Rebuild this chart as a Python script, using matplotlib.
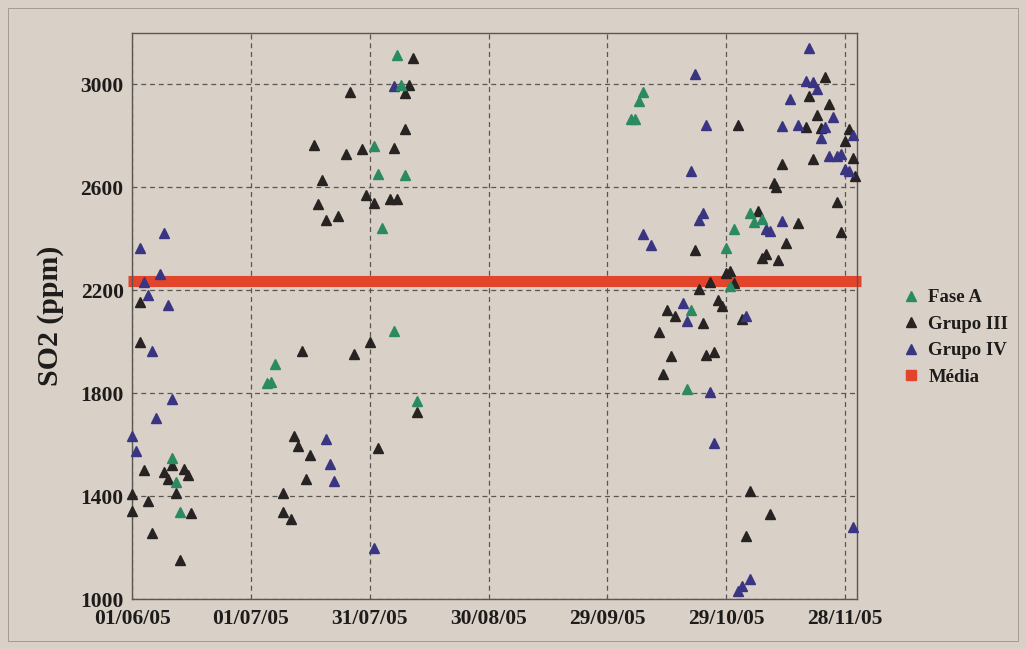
import numpy as np
import matplotlib
matplotlib.use("Agg")
import matplotlib.pyplot as plt
import matplotlib.dates as mdates
from matplotlib.lines import Line2D
from matplotlib.patches import Rectangle

# ── data (day offset from 01/06/05, SO2 ppm) ─────────────────────────────────
start = np.datetime64("2005-06-01")

fase_a_dias = [10, 11, 12, 36, 35, 34, 61, 62, 69, 67, 68, 63, 66, 72,
               129, 128, 127, 126, 150, 152, 151, 141, 140, 156, 157, 159]
fase_a_so2 = [1547, 1453, 1339, 1915, 1844, 1838, 2760, 2653, 2649, 3116, 2997, 2441, 2042, 1770,
              2971, 2935, 2864, 2864, 2365, 2437, 2217, 2123, 1815, 2499, 2465, 2476]

grupo3_dias = [2, 2, 3, 8, 13, 14, 9, 10, 11, 0, 4, 0, 15, 5, 12,
               43, 56, 60, 41, 42, 45, 44, 38, 38, 40, 62, 71, 55, 70, 69, 69, 46, 54, 58,
               66, 48, 59, 47, 61, 65, 67, 49, 52, 72,
               142, 150, 151, 146, 152, 143, 148, 149, 135, 137, 144, 133, 136, 145, 147,
               134, 154, 179, 165, 159, 160, 163, 175, 171, 176, 173, 153, 170, 174, 181,
               180, 182, 172, 164, 182.6, 162, 162.5, 178, 158, 168, 156, 161, 155]
grupo3_so2 = [2154, 1998, 1502, 1492, 1505, 1481, 1466, 1520, 1414, 1408, 1382, 1343, 1333, 1256, 1151,
              1964, 1951, 1999, 1634, 1595, 1559, 1466, 1414, 1339, 1311, 1586, 3101, 2971, 2997,
              2967, 2828, 2763, 2731, 2750, 2753, 2628, 2571, 2534, 2540, 2556, 2556, 2475, 2489, 1727,
              2356, 2269, 2275, 2232, 2227, 2204, 2162, 2139, 2123, 2100, 2071, 2038, 1945, 1949, 1961,
              1874, 2090, 2428, 2382, 2327, 2340, 2318, 3030, 2955, 2922, 2883, 2841, 2834, 2831, 2825,
              2780, 2715, 2711, 2692, 2644, 2615, 2600, 2543, 2508, 2460, 1421, 1330, 1246]

grupo4_dias = [8, 2, 7, 3, 4, 9, 10, 6, 0, 1, 5,
               49, 50, 51, 66, 61,
               142, 141, 144, 143, 129, 131, 139, 140, 146, 155, 161, 160, 164, 171, 170,
               172, 173, 166, 177, 145, 164, 168, 175, 174, 182, 176, 178, 179, 180, 181,
               147, 182, 156, 154, 153]
grupo4_so2 = [2421, 2366, 2265, 2232, 2180, 2142, 1777, 1703, 1634, 1576, 1963,
              1621, 1524, 1460, 2993, 1197,
              3039, 2663, 2502, 2472, 2417, 2375, 2152, 2081, 1803, 2100, 2430, 2439, 2469, 3140, 3013,
              3009, 2981, 2942, 2873, 2844, 2838, 2844, 2835, 2793, 2803, 2721, 2721, 2728, 2670, 2663,
              1608, 1278, 1078, 1052, 1032]

media_so2 = 2235
media_inicio, media_fim = "2005-05-31", "2005-12-02"

tick_datas = ["2005-06-01", "2005-07-01", "2005-07-31", "2005-08-30",
              "2005-09-29", "2005-10-29", "2005-11-28"]
y_ticks = [1000, 1400, 1800, 2200, 2600, 3000]


def to_dates(days):
    return start + (np.asarray(days, dtype=float) * 86400).astype("timedelta64[s]")


# ── style ────────────────────────────────────────────────────────────────────
bg = "#d9d0c7"
c_fase = "#2b8a62"
c_g3 = "#262322"
c_g4 = "#3a3582"
c_media = "#e2452b"
serif = ["Liberation Serif", "DejaVu Serif"]
plt.rcParams["font.family"] = serif
plt.rcParams["font.weight"] = "bold"

fig = plt.figure(figsize=(10.26, 6.49), dpi=100, facecolor=bg)
ax = fig.add_axes([0.1287, 0.0770, 0.7066, 0.8722], facecolor=bg)

# outer chart border
fig.patches.append(Rectangle((0.008, 0.012), 0.984, 0.975, transform=fig.transFigure,
                             fill=False, edgecolor="#a29c96", linewidth=0.7))

ax.plot(np.array([media_inicio, media_fim], dtype="datetime64[D]"), [media_so2, media_so2],
        color=c_media, linewidth=8, solid_capstyle="butt", clip_on=False, zorder=2)

mk = dict(linestyle="none", marker="^", markersize=7.5, clip_on=False, zorder=3)
ax.plot(to_dates(grupo3_dias), grupo3_so2, color=c_g3, **mk)
ax.plot(to_dates(grupo4_dias), grupo4_so2, color=c_g4, **mk)
ax.plot(to_dates(fase_a_dias), fase_a_so2, color=c_fase, **mk)

ax.set_xlim(np.datetime64("2005-06-01"), np.datetime64("2005-12-01"))
ax.set_ylim(1000, 3200)
ax.set_xticks(np.array(tick_datas, dtype="datetime64[D]"))
ax.xaxis.set_major_formatter(mdates.DateFormatter("%d/%m/%y"))
ax.set_yticks(y_ticks)
ax.tick_params(length=0, labelsize=15.5, colors="#1e1c1b")
ax.tick_params(axis="x", pad=7)
ax.tick_params(axis="y", pad=6)
for lab in ax.get_xticklabels() + ax.get_yticklabels():
    lab.set_fontweight("bold")

ax.grid(True, linestyle=(0, (4, 3)), color="#5a5652", linewidth=0.9)
ax.set_axisbelow(True)
for s in ax.spines.values():
    s.set_color("#5a5652")
    s.set_linewidth(1.0)

ax.set_ylabel("SO2 (ppm)", fontsize=21.5, fontweight="bold", color="#1e1c1b", labelpad=12)

handles = [
    Line2D([], [], linestyle="none", marker="^", markersize=6.5, color=c_fase),
    Line2D([], [], linestyle="none", marker="^", markersize=6.5, color=c_g3),
    Line2D([], [], linestyle="none", marker="^", markersize=6.5, color=c_g4),
    Line2D([], [], linestyle="none", marker="s", markersize=6.5, color=c_media),
]
fig.legend(handles, ["Fase A", "Grupo III", "Grupo IV", "Média"],
           loc="upper left", bbox_to_anchor=(0.870, 0.569), frameon=False,
           prop={"family": serif, "weight": "bold", "size": 13.5},
           labelspacing=0.5, handlelength=1.0, handletextpad=0.4, borderpad=0,
           labelcolor="#1e1c1b")

fig.savefig("out.png", dpi=100, facecolor=bg)
